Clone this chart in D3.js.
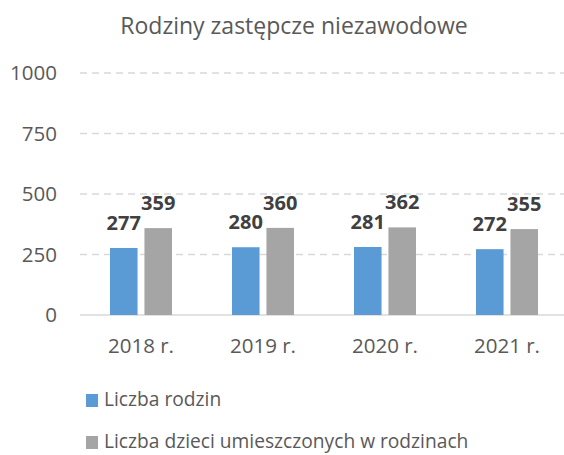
<!DOCTYPE html>
<html>
<head>
<meta charset="utf-8">
<script src="https://cdn.jsdelivr.net/npm/d3@7"></script>
<style>
  body { margin: 0; background: #fff; }
  svg text { font-family: "Open Sans", sans-serif; }
</style>
</head>
<body>
<svg id="chart" width="564" height="455"></svg>
<script>
// dane
var years = ["2018 r.", "2019 r.", "2020 r.", "2021 r."];
var rodziny = [277, 280, 281, 272];
var dzieci = [359, 360, 362, 355];
var seriesNames = ["Liczba rodzin", "Liczba dzieci umieszczonych w rodzinach"];
var yTicks = [0, 250, 500, 750, 1000];

var colors = ["#5b9bd5", "#a5a5a5"];

var svg = d3.select("#chart");

svg.append("text")
  .attr("x", 294).attr("y", 34)
  .attr("text-anchor", "middle")
  .attr("fill", "#595959")
  .style("font-size", "23px")
  .text("Rodziny zastępcze niezawodowe");

var y = d3.scaleLinear().domain([0, 1000]).range([315, 73]);
var x = d3.scaleBand().domain(years).range([80, 568]);
var x1 = d3.scaleBand().domain([0, 1]).range([30, x.bandwidth() - 30]).paddingInner(0.2);

// siatka
svg.append("g").selectAll("line")
  .data(yTicks.filter(d => d > 0))
  .enter().append("line")
  .attr("x1", 80).attr("x2", 564)
  .attr("y1", d => y(d)).attr("y2", d => y(d))
  .attr("stroke", "#d9d9d9")
  .attr("stroke-width", 1.3)
  .attr("stroke-dasharray", "7,5");

svg.append("line")
  .attr("x1", 80).attr("x2", 564)
  .attr("y1", y(0)).attr("y2", y(0))
  .attr("stroke", "#d9d9d9").attr("stroke-width", 1.3);

svg.append("g").selectAll("text")
  .data(yTicks)
  .enter().append("text")
  .attr("x", 57).attr("y", d => y(d) + 7)
  .attr("text-anchor", "end")
  .attr("fill", "#595959")
  .style("font-size", "20.5px")
  .text(d => d);

svg.append("g").selectAll("text")
  .data(years)
  .enter().append("text")
  .attr("x", d => x(d) + x.bandwidth() / 2).attr("y", 353)
  .attr("text-anchor", "middle")
  .attr("fill", "#595959")
  .style("font-size", "20.5px")
  .text(d => d);

var data = [rodziny, dzieci];
data.forEach(function(vals, s) {
  var g = svg.append("g");
  g.selectAll("rect")
    .data(vals)
    .enter().append("rect")
    .attr("x", (d, i) => x(years[i]) + x1(s))
    .attr("y", d => y(d))
    .attr("width", x1.bandwidth())
    .attr("height", d => y(0) - y(d))
    .attr("fill", colors[s]);
  g.selectAll("text")
    .data(vals)
    .enter().append("text")
    .attr("x", (d, i) => x(years[i]) + x1(s) + x1.bandwidth() / 2)
    .attr("y", d => y(d) - 18)
    .attr("text-anchor", "middle")
    .attr("fill", "#404040")
    .style("font-size", "20px")
    .style("font-weight", "bold")
    .text(d => d);
});

// legenda
var leg = svg.append("g").selectAll("g")
  .data(seriesNames)
  .enter().append("g")
  .attr("transform", (d, i) => "translate(86," + (394 + i * 42) + ")");
leg.append("rect").attr("width", 12).attr("height", 13).attr("fill", (d, i) => colors[i]);
leg.append("text")
  .attr("x", 18).attr("y", 12)
  .attr("fill", "#595959")
  .style("font-size", "19.2px")
  .text(d => d);
</script>
</body>
</html>
